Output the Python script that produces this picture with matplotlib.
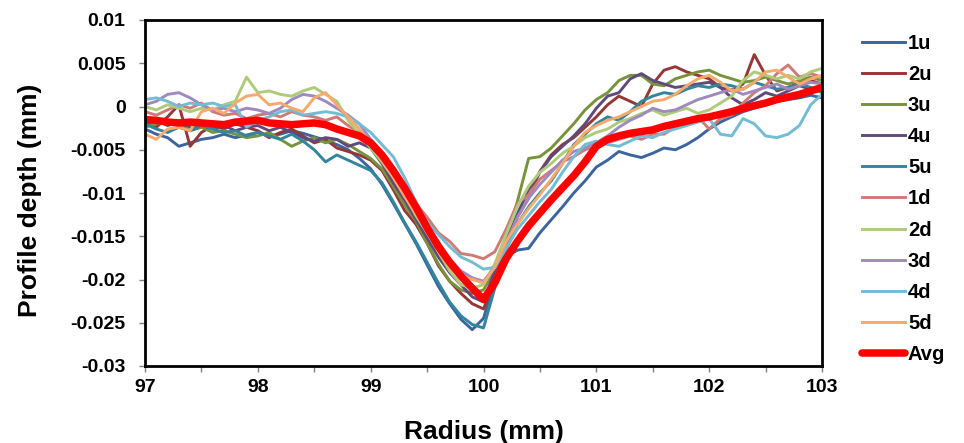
import numpy as np
import matplotlib
matplotlib.use("Agg")
import matplotlib.pyplot as plt
from matplotlib.ticker import MultipleLocator

plt.rcParams['font.family'] = ['Liberation Sans', 'DejaVu Sans']
plt.rcParams['font.weight'] = 'bold'

# radius positions (mm), profile depths in micrometres
radius = np.round(np.arange(97.0, 103.01, 0.1), 1)

s1u = [-2.6, -3.2, -3.6, -4.6, -4.2, -3.8, -3.6, -3.2, -3.6, -3.3,
       -3.0, -3.4, -3.2, -2.8, -3.1, -3.5, -3.9, -4.4, -5.0, -6.0,
       -7.2, -9.0, -11.2, -13.5, -15.8, -18.3, -20.8, -22.8, -24.6, -25.8,
       -24.5, -20.0, -17.4, -16.6, -16.4, -14.6, -13.1, -11.6, -10.0, -8.6,
       -7.0, -6.2, -5.2, -5.6, -5.9, -5.4, -4.8, -5.0, -4.4, -3.6,
       -2.6, -1.8, -1.2, -0.6, -0.2, 0.2, 0.6, 0.8, 1.0, 1.3, 1.0]
s2u = [-1.8, -2.4, -1.2, 0.2, -4.6, -3.0, -2.2, -2.6, -2.0, -2.4,
       -2.8, -3.6, -3.0, -2.6, -3.4, -4.2, -3.8, -4.8, -5.2, -5.6,
       -6.2, -7.4, -9.6, -12.0, -13.6, -15.8, -18.4, -20.2, -21.6, -22.8,
       -23.4, -20.2, -16.0, -12.8, -10.6, -7.5, -5.6, -4.4, -3.6, -2.4,
       -1.2, 0.2, 1.2, 0.6, 0.0, 2.6, 4.2, 4.6, 4.0, 3.6,
       3.2, 2.2, 1.8, 2.6, 6.0, 3.6, 1.8, 2.2, 2.8, 3.0, 2.6]
s3u = [-2.4, -2.0, -1.6, -2.2, -2.8, -2.4, -3.0, -2.8, -3.2, -3.6,
       -3.4, -3.0, -3.8, -4.6, -4.0, -3.6, -4.2, -3.8, -4.4, -5.2,
       -6.0, -7.2, -9.2, -11.4, -13.2, -15.8, -18.2, -20.2, -21.2, -21.6,
       -21.2, -19.0, -15.4, -11.0, -6.0, -5.8, -4.8, -3.4, -2.0, -0.4,
       0.8, 1.6, 3.0, 3.6, 3.6, 2.6, 2.4, 3.2, 3.6, 4.0,
       4.2, 3.6, 3.2, 2.8, 3.0, 3.4, 3.0, 2.6, 3.0, 3.4, 3.0]
s4u = [-1.2, -1.6, -2.2, -1.8, -2.4, -2.0, -2.6, -2.2, -2.8, -2.4,
       -2.2, -2.8, -2.4, -3.0, -3.6, -4.0, -3.6, -3.8, -4.6, -4.2,
       -4.8, -6.6, -8.8, -10.8, -13.0, -15.2, -17.4, -19.2, -20.6, -22.0,
       -22.6, -19.0, -15.8, -12.4, -9.6, -7.6, -5.8, -4.6, -3.4, -2.0,
       -0.2, 1.2, 1.6, 3.2, 3.8, 3.0, 2.6, 2.2, 2.4, 2.6,
       2.8, 2.2, 1.0, 0.2, 0.8, 1.6, 1.2, 1.8, 2.4, 2.0, 2.2]
s5u = [-2.0, -2.6, -3.0, -2.4, -2.8, -2.2, -2.6, -3.0, -2.8, -3.4,
       -3.0, -3.4, -3.8, -3.2, -4.0, -5.0, -6.4, -5.6, -6.2, -6.8,
       -7.4, -8.8, -11.0, -13.4, -15.6, -18.0, -20.4, -22.6, -24.2, -25.2,
       -25.6, -21.0, -16.6, -13.6, -11.6, -10.0, -8.6, -6.6, -4.4, -3.2,
       -2.0, -1.2, -1.6, -0.6, 0.6, 1.2, 1.6, 1.4, 2.0, 2.4,
       2.2, 2.6, 2.4, 2.0, 2.8, 2.4, 2.0, 2.2, 2.6, 2.2, 1.6]
s1d = [-0.6, -1.0, -0.4, 0.2, -0.2, 0.4, -0.6, -1.0, -0.8, -1.4,
       -1.0, -0.8, -1.2, -0.6, -1.0, -1.2, -1.6, -1.2, -2.2, -3.0,
       -4.2, -5.8, -7.6, -9.4, -11.2, -12.8, -14.6, -15.6, -17.0, -17.2,
       -17.6, -16.8, -14.2, -11.2, -10.2, -8.4, -7.4, -6.4, -5.8, -5.0,
       -4.6, -4.2, -3.8, -3.4, -3.8, -3.2, -3.2, -2.4, -1.6, -1.2,
       -2.6, -1.4, -1.0, 0.4, 1.6, 2.4, 3.8, 4.8, 3.4, 3.8, 3.4]
s2d = [0.0, -0.4, 0.2, -0.2, -0.6, -0.2, -0.4, 0.2, 0.6, 3.4,
       1.6, 1.8, 1.4, 1.2, 1.8, 2.2, 1.4, 0.6, -1.6, -3.2,
       -4.8, -6.4, -8.2, -10.2, -12.6, -14.6, -16.8, -19.0, -20.6, -21.0,
       -20.6, -18.2, -14.8, -11.6, -9.2, -7.6, -6.6, -5.4, -4.6, -3.6,
       -3.0, -2.6, -1.8, -1.4, -0.8, -0.4, -1.0, -0.6, -0.2, -0.8,
       -0.4, 0.4, 1.2, 3.0, 4.0, 3.6, 3.2, 3.6, 3.2, 4.0, 4.4]
s3d = [0.2, 0.6, 1.4, 1.6, 1.0, 0.2, -0.4, -0.2, -0.6, -0.2,
       -0.4, -0.8, -0.2, 0.8, 1.4, 1.2, 0.6, -0.2, -1.0, -2.0,
       -3.8, -5.4, -7.4, -9.6, -11.6, -13.8, -15.6, -17.6, -19.0, -19.8,
       -20.2, -18.6, -15.8, -12.8, -10.6, -9.0, -7.6, -6.2, -5.2, -4.8,
       -4.2, -3.4, -2.4, -1.6, -1.0, -0.2, -0.6, -0.4, 0.2, 0.8,
       1.2, 1.6, 2.0, 1.4, 1.8, 2.2, 2.6, 2.0, 2.4, 2.8, 2.6]
s4d = [0.8, 1.0, 0.6, 0.0, 0.4, 0.2, 0.4, 0.0, 0.2, -2.4,
       -1.6, -1.2, -0.6, -0.4, -1.0, -0.8, -0.6, -0.8, -1.2, -2.0,
       -3.0, -4.4, -5.8, -8.2, -11.0, -13.4, -14.8, -16.2, -17.4, -18.0,
       -18.8, -18.6, -16.4, -14.2, -12.6, -11.0, -9.6, -7.6, -5.8, -4.4,
       -4.0, -4.4, -4.6, -4.0, -3.4, -3.6, -3.0, -2.6, -2.2, -1.8,
       -1.4, -3.2, -3.4, -1.4, -2.0, -3.4, -3.6, -3.2, -2.2, 0.2, 1.4]
s5d = [-3.2, -3.8, -2.6, -2.4, -2.8, -0.6, -0.2, -0.8, 0.4, 1.2,
       1.4, 0.2, 0.4, -0.2, -0.6, 1.0, 1.6, 0.2, -1.2, -2.6,
       -4.2, -6.2, -8.2, -10.4, -12.4, -14.4, -16.6, -18.6, -19.6, -20.0,
       -20.4, -18.6, -15.6, -13.6, -11.8, -10.2, -8.4, -6.6, -4.6, -3.0,
       -2.2, -1.6, -1.2, -0.6, 0.0, 0.6, 0.8, 1.4, 2.4, 3.2,
       3.6, 2.8, 1.8, 2.0, 2.8, 4.0, 4.2, 3.4, 2.6, 3.2, 3.6]
avg = [-1.5, -1.6, -1.8, -1.9, -1.8, -1.9, -2.0, -2.1, -1.8, -1.7,
       -1.6, -1.9, -2.0, -2.1, -2.0, -1.9, -2.1, -2.6, -3.0, -3.4,
       -4.2, -5.6, -7.4, -9.4, -11.6, -14.0, -16.2, -18.0, -19.6, -21.0,
       -22.3, -20.4, -17.6, -15.6, -13.8, -12.3, -10.8, -9.4, -8.0, -6.4,
       -4.6, -3.8, -3.4, -3.1, -2.9, -2.7, -2.3, -2.0, -1.7, -1.4,
       -1.2, -0.9, -0.6, -0.2, 0.1, 0.4, 0.8, 1.1, 1.4, 1.8, 2.2]

names = ["1u", "2u", "3u", "4u", "5u", "1d", "2d", "3d", "4d", "5d"]
series = [s1u, s2u, s3u, s4u, s5u, s1d, s2d, s3d, s4d, s5d]
colors = ["#3C649E", "#953735", "#77933C", "#604A7B", "#31859C",
          "#D07A78", "#AECB7A", "#9F8AC0", "#72BCD4", "#F9A96C"]

dpi = 100
fig = plt.figure(figsize=(964 / dpi, 443 / dpi), dpi=dpi)
ax = fig.add_axes([145 / 964, 1 - 366 / 443, 677 / 964, 346 / 443])

for name, vals, c in zip(names, series, colors):
    ax.plot(radius, np.array(vals) / 1000, color=c, lw=2.1, label=name,
            solid_joinstyle="round")
ax.plot(radius, np.array(avg) / 1000, color="#FF0000", lw=5.4, label="Avg",
        solid_capstyle="round")

ax.set_xlim(97, 103)
ax.set_ylim(-0.03, 0.01)
ax.xaxis.set_major_locator(MultipleLocator(1))
ax.xaxis.set_minor_locator(MultipleLocator(0.5))
yt = [0.01, 0.005, 0, -0.005, -0.01, -0.015, -0.02, -0.025, -0.03]
ax.set_yticks(yt)
ax.set_yticklabels(["0.01", "0.005", "0", "-0.005", "-0.01", "-0.015",
                    "-0.02", "-0.025", "-0.03"])
ax.tick_params(axis="both", which="both", direction="out", length=4,
               width=1, color="#808080", labelsize=14)
ax.tick_params(axis="y", pad=10)
ax.tick_params(axis="x", pad=5)

for sp in ax.spines.values():
    sp.set_linewidth(2)
    sp.set_color("black")

ax.set_xlabel("Radius (mm)", fontsize=19, fontweight="bold")
ax.set_ylabel("Profile depth (mm)", fontsize=19, fontweight="bold")
ax.xaxis.set_label_coords(0.5, (366 - 420) / 346)
ax.yaxis.set_label_coords((42 - 145) / 677, 0.48)

ax.legend(loc="upper left", bbox_to_anchor=(854 / 964, 1 - 26 / 443),
          bbox_transform=fig.transFigure, frameon=False, fontsize=14.5,
          handlelength=2.13, labelspacing=0.6, handletextpad=0.15,
          borderaxespad=0)

fig.savefig("out.png", dpi=dpi)
